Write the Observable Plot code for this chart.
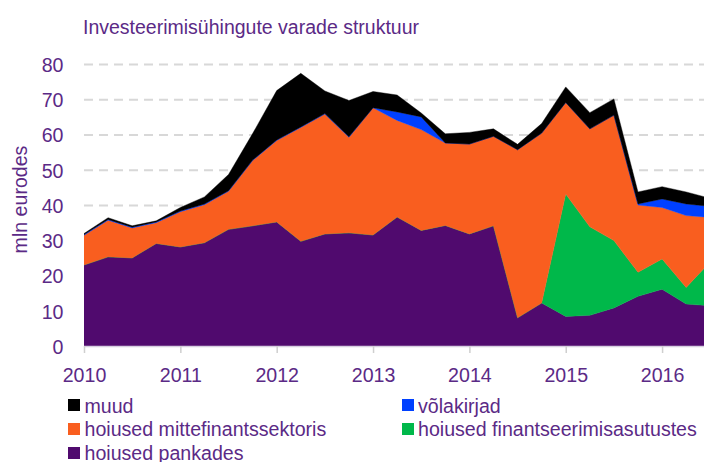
<!DOCTYPE html>
<html><head><meta charset="utf-8">
<script src="https://cdn.jsdelivr.net/npm/d3@7"></script>
<script src="https://cdn.jsdelivr.net/npm/@observablehq/plot@0.6"></script>
<style>
body{margin:0;background:#fff;font-family:"Liberation Sans",Arial,sans-serif;color:#5b2a86;}
#wrap{position:relative;width:704px;height:462px;overflow:hidden}
#title{position:absolute;left:83px;top:16px;font-size:19.5px;white-space:nowrap;line-height:normal}
#chart{position:absolute;left:0;top:48px}
.lg{position:absolute;font-size:19.6px;white-space:nowrap;line-height:normal}
.sw{position:absolute;width:12px;height:12px}
</style></head>
<body><div id="wrap"><div id="title">Investeerimisühingute varade struktuur</div><div id="chart"></div><div id="legend"></div></div>
<script>
const quarters = [2010, 2010.25, 2010.5, 2010.75, 2011, 2011.25, 2011.5, 2011.75, 2012, 2012.25, 2012.5, 2012.75, 2013, 2013.25, 2013.5, 2013.75, 2014, 2014.25, 2014.5, 2014.75, 2015, 2015.25, 2015.5, 2015.75, 2016, 2016.25, 2016.5];
const pankades   = [23.0, 25.3, 25.0, 29.1, 28.1, 29.3, 33.1, 34.1, 35.2, 29.7, 31.8, 32.1, 31.5, 36.6, 32.8, 34.2, 31.8, 34.1, 8.0, 12.2, 8.4, 8.7, 10.8, 14.1, 16.1, 11.9, 11.4];
const finants    = [0, 0, 0, 0, 0, 0, 0, 0, 0, 0, 0, 0, 0, 0, 0, 0, 0, 0, 0, 0, 34.7, 25.1, 19.1, 6.8, 8.6, 4.7, 12.5];
const mittefin   = [8.4, 10.4, 8.5, 5.9, 10.0, 10.8, 10.8, 18.5, 23.1, 32.3, 34.0, 27.1, 36.1, 27.4, 28.6, 23.4, 25.5, 25.4, 47.7, 48.2, 26.0, 27.8, 35.6, 19.1, 14.6, 20.4, 12.6];
const volakirjad = [0.2, 0.2, 0.2, 0.2, 0.2, 0.2, 0.15, 0.15, 0.15, 0.15, 0.15, 0.15, 0, 2.4, 3.6, 0, 0, 0, 0, 0, 0, 0, 0, 0.3, 2.4, 3.3, 3.1];
const muud       = [0.3, 0.5, 0.4, 0.3, 1.0, 2.0, 4.6, 7.5, 14.0, 15.2, 6.4, 10.3, 4.6, 4.8, 1.1, 2.6, 3.3, 2.1, 1.5, 2.7, 4.4, 4.6, 4.6, 3.4, 3.5, 3.4, 2.3];
const xTicks = [2010, 2011, 2012, 2013, 2014, 2015, 2016];
const yTicks = [0, 10, 20, 30, 40, 50, 60, 70, 80];
const seriesNames = ["hoiused pankades", "hoiused finantseerimisasutustes", "hoiused mittefinantssektoris", "võlakirjad", "muud"];
const seriesColors = ["#500a6e", "#00b84a", "#f95e1f", "#0040ff", "#000000"];
const seriesValues = [pankades, finants, mittefin, volakirjad, muud];
const legendOrder = ["muud", "võlakirjad", "hoiused mittefinantssektoris", "hoiused finantseerimisasutustes", "hoiused pankades"];
const yLabel = "mln eurodes";

const data = [];
seriesNames.forEach((s, i) => quarters.forEach((q, j) => data.push({q, s, v: seriesValues[i][j]})));

const textColor = "#5b2a86";
const chart = Plot.plot({
  width: 704, height: 344,
  marginTop: 16, marginBottom: 46, marginLeft: 84, marginRight: 0,
  style: {fontFamily: '"Liberation Sans", Arial, sans-serif', fontSize: "19.6px", color: textColor, background: "white", overflow: "visible"},
  x: {domain: [2010, 2016.435]},
  y: {domain: [0, 80]},
  color: {domain: seriesNames, range: seriesColors},
  marks: [
    Plot.ruleY(yTicks.filter(d => d > 0), {stroke: "#d8d8d8", strokeWidth: 2, strokeDasharray: "9,6"}),
    Plot.areaY(data, {x: "q", y: "v", fill: "s", stroke: "s", strokeWidth: 0.4, order: seriesNames, clip: true}),
    Plot.ruleY([0], {stroke: "#d6cfe0", strokeWidth: 1.5}),
    Plot.axisX({ticks: xTicks, tickFormat: d => String(d), tickSize: 7, tickPadding: 15, stroke: "#cfcfcf", strokeWidth: 1.5, fill: textColor, label: null}),
    Plot.axisY({ticks: yTicks, tickSize: 0, tickPadding: 21, fill: textColor, label: null, dy: 1}),
    Plot.text([yLabel], {frameAnchor: "left", dx: -64, dy: -6, rotate: -90, fill: textColor, lineAnchor: "middle", textAnchor: "middle"})
  ]
});
document.getElementById("chart").appendChild(chart);

const leg = document.getElementById("legend");
const colX = [[68, 84.5], [402, 418]];
const rowBase = [412.7, 436.4, 460];
legendOrder.forEach((name, i) => {
  const col = i % 2, row = Math.floor(i / 2);
  const sw = document.createElement("div");
  sw.className = "sw";
  sw.style.left = colX[col][0] + "px";
  sw.style.top = (rowBase[row] - 13.5) + "px";
  sw.style.background = seriesColors[seriesNames.indexOf(name)];
  leg.appendChild(sw);
  const t = document.createElement("div");
  t.className = "lg";
  t.style.left = colX[col][1] + "px";
  t.style.top = (rowBase[row] - 18) + "px";
  t.textContent = name;
  leg.appendChild(t);
});
</script>
</body></html>
